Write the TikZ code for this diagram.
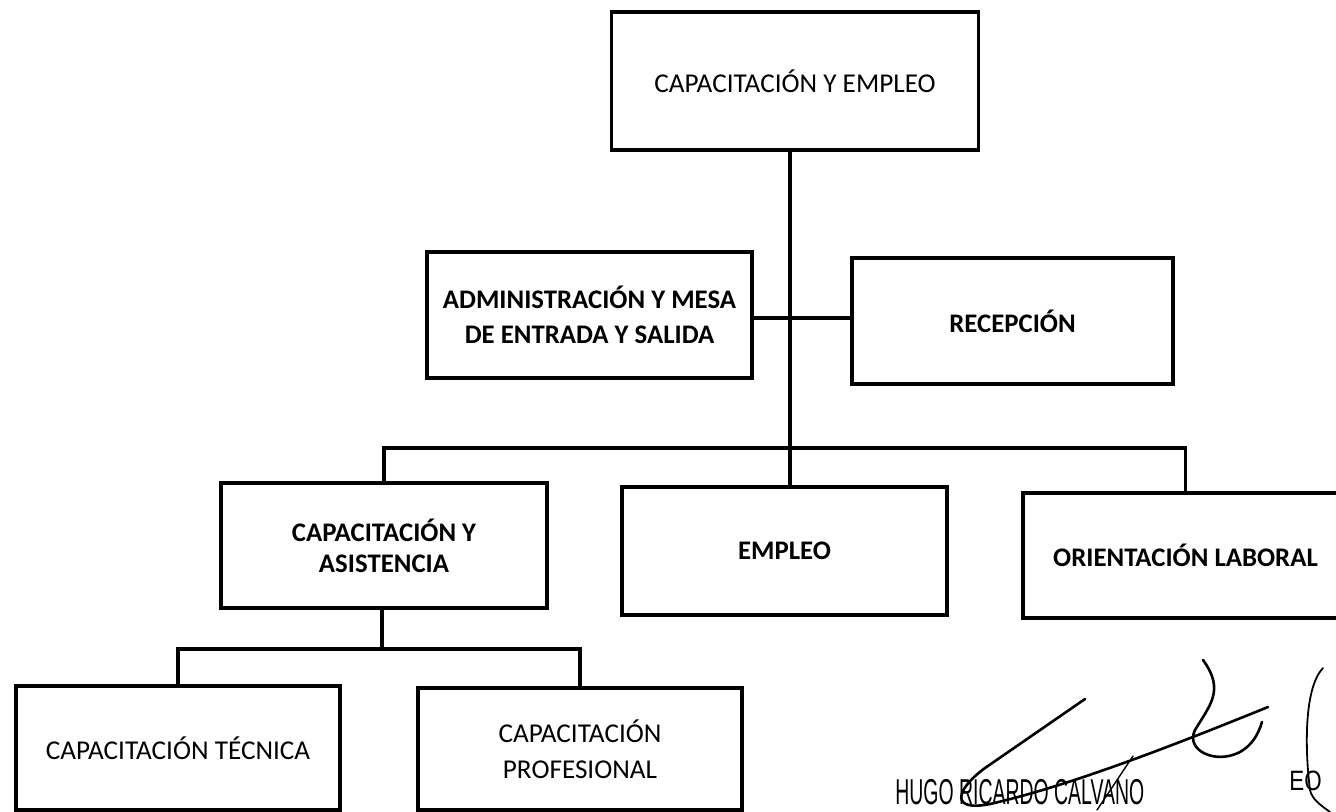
\documentclass[tikz,border=0pt]{standalone}
\usepackage{fontspec}
\setmainfont{Carlito}
\newfontfamily\signfont[FakeStretch=0.54]{Liberation Sans}
\newfontfamily\sealfont[FakeStretch=0.8]{Liberation Sans}
\tikzset{
  unit/.style={draw, line width=1.6pt, align=center, inner sep=0pt, font=\fontsize{13.6}{18}\selectfont},
  head/.style={unit, font=\fontsize{13.4}{17.5}\selectfont\bfseries},
  link/.style={line width=1.6pt},
  pen/.style={line width=1.3pt, line cap=round}
}
\begin{document}
\begin{tikzpicture}[x=0.5pt, y=-0.5pt]
            \useasboundingbox (0,0) rectangle (1336,812);
            \clip (0,0) rectangle (1336,812);

            %Nodes
            \node[unit, minimum width=183.5pt, minimum height=69pt] at (795,81) (top) {CAPACITACIÓN Y EMPLEO};
            \node[head, minimum width=162.5pt, minimum height=63pt] at (589.5,315) (admin) {ADMINISTRACIÓN Y MESA\\DE ENTRADA Y SALIDA};
            \node[head, minimum width=160.5pt, minimum height=63pt] at (1012.5,321) (recep) {RECEPCIÓN};
            \node[head, font=\fontsize{13.4}{15.5}\selectfont\bfseries, minimum width=163pt, minimum height=62.5pt] at (384,545.5) (capasist) {CAPACITACIÓN Y\\ASISTENCIA};
            \node[head, minimum width=162.5pt, minimum height=64pt] at (784.5,551) (empleo) {EMPLEO};
            \node[head, minimum width=162.5pt, minimum height=62.5pt] at (1185.5,555.5) (orient) {ORIENTACIÓN LABORAL};
            \node[unit, minimum width=162pt, minimum height=62pt] at (178,748) (captec) {CAPACITACIÓN TÉCNICA};
            \node[unit, minimum width=162pt, minimum height=61pt] at (580,749) (capprof) {CAPACITACIÓN\\PROFESIONAL};

            %Junctions
            \coordinate (hub) at (790,318);
            \coordinate (bus) at (790,448);
            \coordinate (subbus) at (382,649);

            %Lines
            \draw[link] (top.south -| hub) -- (empleo.north -| hub);
            \draw[link] (admin.east |- hub) -- (recep.west |- hub);
            \draw[link] (capasist.north) |- (bus) -| (orient.north);
            \draw[link] (capasist.south -| subbus) -- (subbus);
            \draw[link] (captec.north) |- (subbus) -| (capprof.north);

            %Signature
            \node[font=\signfont\fontsize{18}{18}\selectfont, anchor=base west, inner sep=0pt] at (895,804) (sign) {HUGO RICARDO CALVANO};
            \node[font=\sealfont\fontsize{14}{14}\selectfont, anchor=base west, inner sep=0pt] at (1289,790) (seal) {EO};
            \draw[pen] (1085,699) -- (985,768) .. controls (955,790) and (950,812) .. (990,804) .. controls (1060,788) and (1150,755) .. (1268,707);
            \draw[pen] (1203,660) .. controls (1225,690) and (1210,705) .. (1195,730) .. controls (1185,750) and (1215,765) .. (1240,752) .. controls (1252,745) and (1258,735) .. (1262,722);
            \draw[pen, line width=0.7pt] (1133,756) -- (1097,810);
            \draw[pen, line width=0.9pt] (1323,668) .. controls (1302,690) and (1306,760) .. (1310,790) .. controls (1312,800) and (1322,806) .. (1330,812);
        \end{tikzpicture}
\end{document}
